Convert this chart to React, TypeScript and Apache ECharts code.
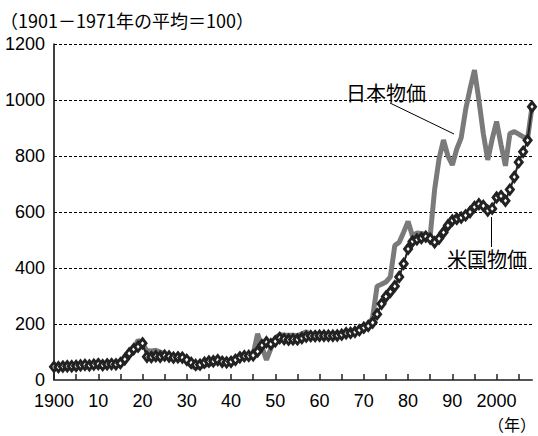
import React, { useEffect, useRef } from "react";
import * as echarts from "echarts";

const FONT = '"Noto Sans CJK JP", "Noto Sans", sans-serif';
const NUM_FONT = '"Liberation Sans", Arial, sans-serif';

// Years 1900–2008 (category axis)
const years: string[] = [];
for (let y = 1900; y <= 2008; y++) years.push(String(y));

// 米国物価 (index, 1901–1971 average = 100)
const usPrices = [
  47, 46, 48, 49, 49, 50, 52, 54, 52, 55,
  57, 53, 56, 57, 56, 60, 74, 95, 110, 119,
  131, 83, 82, 85, 83, 87, 84, 80, 81, 80,
  72, 61, 54, 55, 62, 66, 67, 71, 65, 63,
  65, 72, 81, 85, 86, 88, 102, 124, 135, 128,
  138, 150, 146, 144, 145, 145, 150, 155, 157, 157,
  158, 158, 158, 158, 159, 162, 167, 168, 172, 178,
  187, 193, 205, 235, 272, 298, 315, 335, 368, 415,
  468, 495, 502, 507, 512, 505, 492, 505, 527, 552,
  570, 576, 580, 588, 600, 618, 628, 622, 605, 612,
  652, 657, 640, 680, 725, 778, 815, 856, 976,
];

// 日本物価 (index, 1901–1971 average = 100)
const japanPrices = [
  42, 42, 43, 44, 46, 48, 50, 52, 50, 48,
  49, 50, 52, 52, 50, 54, 68, 88, 112, 142,
  128, 105, 104, 106, 100, 94, 87, 83, 82, 79,
  65, 50, 43, 46, 52, 56, 59, 64, 63, 64,
  66, 72, 80, 85, 88, 92, 165, 118, 72, 112,
  150, 162, 160, 160, 160, 158, 165, 172, 162, 163,
  165, 166, 163, 165, 165, 166, 168, 170, 172, 175,
  182, 188, 225, 335, 342, 350, 368, 480, 492, 528,
  566, 514, 525, 523, 520, 515, 680, 790, 857, 800,
  768, 825, 865, 965, 1040, 1107, 1000, 880, 786, 860,
  923, 840, 765, 880, 887, 878, 868, 862, 976,
];

const titleText = "（1901－1971年の平均＝100）";
const unitText = "（年）";
const japanLabel = "日本物価";
const usLabel = "米国物価";

function yearLabel(v: string): string {
  const n = Number(v);
  if (n === 1900 || n === 2000) return String(n);
  return String(n % 100);
}

export default function App() {
  const ref = useRef<HTMLDivElement>(null);
  useEffect(() => {
    if (!ref.current) return;
    const chart = echarts.init(ref.current, null, { renderer: "svg" });
    chart.setOption({
      animation: false,
      backgroundColor: "#fff",
      textStyle: { fontFamily: FONT },
      grid: { left: 54, right: 6, top: 44, bottom: 56 },
      xAxis: {
        type: "category",
        data: years,
        boundaryGap: false,
        axisLine: { lineStyle: { color: "#555", width: 2 } },
        axisTick: {
          inside: true,
          length: 6,
          interval: (_i: number, v: string) => Number(v) % 5 === 0,
          lineStyle: { color: "#222", width: 1.5 },
        },
        axisLabel: {
          interval: (_i: number, v: string) => Number(v) % 10 === 0,
          formatter: yearLabel,
          fontSize: 18,
          lineHeight: 16,
          color: "#000",
          fontFamily: NUM_FONT,
          margin: 13,
        },
        splitLine: { show: false },
      },
      yAxis: {
        type: "value",
        min: 0,
        max: 1200,
        interval: 200,
        axisLine: { show: true, lineStyle: { color: "#000", width: 1.5 } },
        axisTick: { show: false },
        axisLabel: {
          fontSize: 18,
          lineHeight: 16,
          color: "#000",
          fontFamily: NUM_FONT,
          margin: 9,
          formatter: (v: number) => String(v),
        },
        splitLine: { lineStyle: { color: "#000", type: [3, 2], width: 1 } },
      },
      series: [
        {
          name: japanLabel,
          type: "line",
          data: japanPrices,
          symbol: "none",
          lineStyle: { color: "#7a7a7a", width: 5 },
          z: 2,
        },
        {
          name: usLabel,
          type: "line",
          data: usPrices,
          symbol: "diamond",
          symbolSize: [7, 9],
          showAllSymbol: true,
          lineStyle: { color: "#222", width: 2 },
          itemStyle: { color: "#fff", borderColor: "#222", borderWidth: 3 },
          z: 3,
        },
      ],
      graphic: [
        {
          type: "text",
          style: {
            text: titleText,
            x: 0,
            y: 20,
            fontSize: 18,
            fontFamily: FONT,
            fill: "#000",
            verticalAlign: "middle",
          },
        },
        {
          type: "text",
          style: {
            text: unitText,
            x: 536,
            y: 424,
            fontSize: 16,
            fontFamily: FONT,
            fill: "#000",
            align: "right",
            verticalAlign: "middle",
          },
        },
        {
          type: "text",
          style: {
            text: japanLabel,
            x: 346,
            y: 92,
            fontSize: 20,
            fontFamily: FONT,
            fill: "#000",
            verticalAlign: "middle",
          },
        },
        {
          type: "text",
          style: {
            text: usLabel,
            x: 447,
            y: 258,
            fontSize: 20,
            fontFamily: FONT,
            fill: "#000",
            verticalAlign: "middle",
          },
        },
        {
          type: "line",
          shape: { x1: 390, y1: 103, x2: 454, y2: 134 },
          style: { stroke: "#000", lineWidth: 1 },
        },
        {
          type: "line",
          shape: { x1: 491.5, y1: 217, x2: 491.5, y2: 247 },
          style: { stroke: "#000", lineWidth: 1 },
        },
      ],
    });
    return () => chart.dispose();
  }, []);
  return (
    <div
      ref={ref}
      style={{ position: "fixed", left: 0, top: 0, width: 538, height: 436 }}
    />
  );
}
